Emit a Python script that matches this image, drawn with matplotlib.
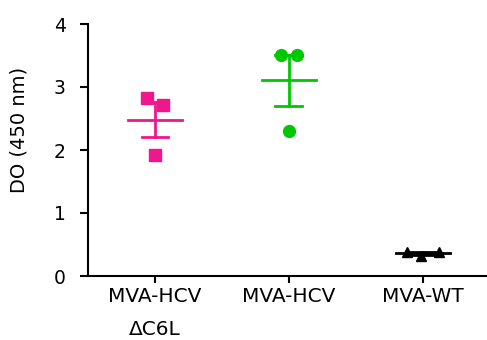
import numpy as np
import matplotlib.pyplot as plt

plt.rcParams['font.family'] = ['DejaVu Sans']

groups = ['MVA-HCV\nΔC6L', 'MVA-HCV', 'MVA-WT']
values = [
    [2.82, 2.71, 1.92],
    [3.51, 3.51, 2.30],
    [0.38, 0.32, 0.38],
]
colors = ['#F0168C', '#00C800', '#000000']
markers = ['s', 'o', '^']

fig = plt.figure(figsize=(4.87, 3.4), dpi=100)
ax = fig.add_axes([88 / 487, 1 - 276 / 340, 1 - 88 / 487, (276 - 24) / 340])

for i, vals in enumerate(values):
    vals = np.array(vals)
    mean = vals.mean()
    sem = vals.std(ddof=1) / np.sqrt(len(vals))
    # small horizontal spread of the points, like the original scatter
    offs = [-0.12, -0.01, 0.12] if i == 2 else [-0.06, 0.06, 0.0]
    xs = [i + o for o in offs]
    ax.plot(xs, vals, linestyle='none', marker=markers[i], color=colors[i],
            markersize=8.5 if i < 2 else 7.5, clip_on=False, zorder=3)
    ax.plot([i - 0.2, i + 0.2], [mean, mean], color=colors[i], lw=2, zorder=4)
    ax.plot([i, i], [mean - sem, mean + sem], color=colors[i], lw=2, zorder=4)
    ax.plot([i - 0.1, i + 0.1], [mean - sem, mean - sem], color=colors[i], lw=2, zorder=4)
    ax.plot([i - 0.1, i + 0.1], [mean + sem, mean + sem], color=colors[i], lw=2, zorder=4)

ax.set_xlim(-0.5, 2.48)
ax.set_ylim(0, 4)
ax.set_yticks([0, 1, 2, 3, 4])
ax.set_xticks(range(len(groups)))
ax.set_xticklabels(groups, fontsize=14.5, linespacing=1.95)
ax.tick_params(axis='y', labelsize=13.5, width=1.5, length=6, pad=10)
ax.tick_params(axis='x', width=1.5, length=5, pad=3)
ax.set_ylabel('DO (450 nm)', fontsize=14)
ax.yaxis.set_label_coords(-(88 - 29) / 399, 0.58)
for side in ['top', 'right']:
    ax.spines[side].set_visible(False)
for side in ['left', 'bottom']:
    ax.spines[side].set_linewidth(1.5)

fig.savefig('out.png', dpi=100)
